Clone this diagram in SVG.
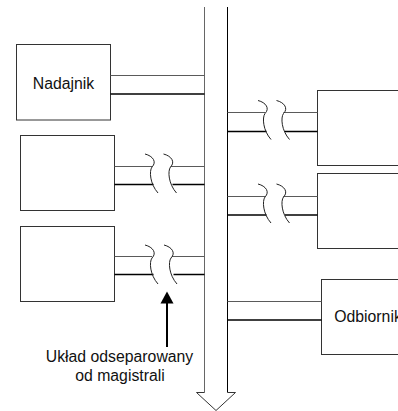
<svg xmlns="http://www.w3.org/2000/svg" width="398" height="411" viewBox="0 0 398 411">
<defs>
<style>
.box{fill:#fff;stroke:#333;stroke-width:1}
.up{stroke:#5a5a5a;stroke-width:1;fill:none}
.lo{stroke:#000;stroke-width:1.5;fill:none}
.brk{stroke:#222;stroke-width:1;fill:none}
.t{font-family:"Liberation Sans",Arial,sans-serif;font-size:15.8px;fill:#111}
</style>
<path id="brk" d="M -6,-12 C 2,-10 6,-4 1,1 C -2,5 -1,18 7,27"/>
</defs>
<rect width="398" height="411" fill="#fff"/>
<g id="bus">
<path d="M204.5,7 V392.5 H196.5 L216,411 L235.5,392.5 H227.5 V7" fill="#fff" stroke="none"/>
<line x1="204.5" y1="7" x2="204.5" y2="392.5" stroke="#666" stroke-width="1"/>
<line x1="227.5" y1="7" x2="227.5" y2="392.5" stroke="#000" stroke-width="1"/>
<path d="M204.5,392.5 H196.5 L216,410.5 L235.5,392.5 H227.5" fill="none" stroke="#333" stroke-width="1"/>
</g>
<g id="nadajnik">
<rect class="box" x="16.5" y="44.5" width="94" height="75.5"/>
<text class="t" x="63.5" y="88.5" text-anchor="middle">Nadajnik</text>
</g>
<g id="uklad1">
<rect class="box" x="20.5" y="135.5" width="94" height="75"/>
</g>
<g id="uklad2">
<rect class="box" x="20.5" y="226.5" width="94" height="75"/>
</g>
<g id="odbiornik1">
<rect class="box" x="317.5" y="90.5" width="100" height="75"/>
</g>
<g id="odbiornik2">
<rect class="box" x="317.5" y="173.5" width="100" height="75"/>
</g>
<g id="odbiornik">
<rect class="box" x="321.5" y="279.5" width="100" height="75"/>
<text class="t" x="368" y="322" text-anchor="middle">Odbiornik</text>
</g>
<g id="connectors">
<line class="up" x1="110.5" y1="75.5" x2="204.5" y2="75.5"/>
<line class="lo" x1="110.5" y1="94" x2="204.5" y2="94"/>

<line class="up" x1="114.5" y1="166.5" x2="152" y2="166.5"/>
<line class="up" x1="171" y1="166.5" x2="204.5" y2="166.5"/>
<line class="lo" x1="114.5" y1="184.5" x2="153.5" y2="184.5"/>
<line class="lo" x1="172.5" y1="184.5" x2="204.5" y2="184.5"/>
<use href="#brk" class="brk" transform="translate(151,166)"/>
<use href="#brk" class="brk" transform="translate(169.5,166)"/>

<line class="up" x1="114.5" y1="256.5" x2="152" y2="256.5"/>
<line class="up" x1="172" y1="256.5" x2="204.5" y2="256.5"/>
<line class="lo" x1="114.5" y1="274.5" x2="153.5" y2="274.5"/>
<line class="lo" x1="173.5" y1="274.5" x2="204.5" y2="274.5"/>
<use href="#brk" class="brk" transform="translate(151,257)"/>
<use href="#brk" class="brk" transform="translate(170,257)"/>

<line class="up" x1="227.5" y1="112.5" x2="265" y2="112.5"/>
<line class="up" x1="283.5" y1="112.5" x2="317.5" y2="112.5"/>
<line class="lo" x1="227.5" y1="131.5" x2="266.5" y2="131.5"/>
<line class="lo" x1="285" y1="131.5" x2="317.5" y2="131.5"/>
<use href="#brk" class="brk" transform="translate(264,112.5)"/>
<use href="#brk" class="brk" transform="translate(282.5,112.5)"/>

<line class="up" x1="227.5" y1="196.5" x2="265" y2="196.5"/>
<line class="up" x1="283.5" y1="196.5" x2="317.5" y2="196.5"/>
<line class="lo" x1="227.5" y1="215" x2="266.5" y2="215"/>
<line class="lo" x1="285" y1="215" x2="317.5" y2="215"/>
<use href="#brk" class="brk" transform="translate(264,196)"/>
<use href="#brk" class="brk" transform="translate(282.5,196)"/>

<line class="up" x1="227.5" y1="301.5" x2="321.5" y2="301.5"/>
<line class="lo" x1="227.5" y1="320" x2="321.5" y2="320"/>

<line x1="167" y1="347" x2="167" y2="300" stroke="#000" stroke-width="2"/>
<polygon points="167,291.5 160.5,303.5 173.5,303.5" fill="#000"/>
</g>
<g id="label">
<text class="t" x="119.5" y="361.5" text-anchor="middle">Układ odseparowany</text>
<text class="t" x="120" y="380.5" text-anchor="middle">od magistrali</text>
</g>
</svg>
